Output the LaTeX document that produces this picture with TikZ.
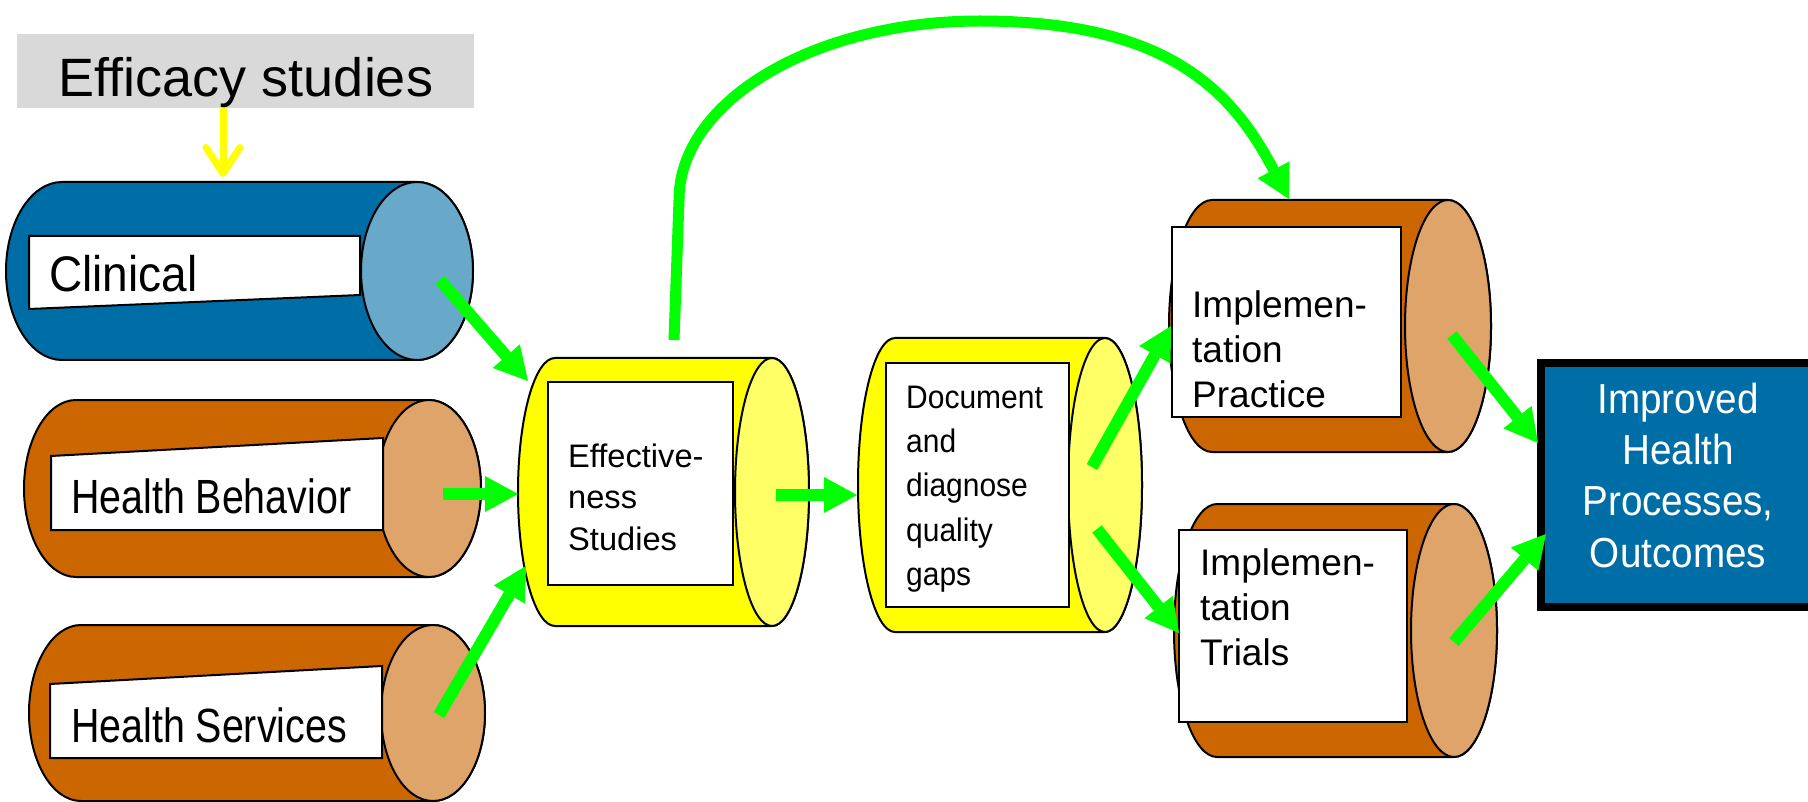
\documentclass[tikz,border=0pt]{standalone}
\usepackage{fontspec}
\setmainfont{Liberation Sans}
\newfontfamily\narrowA[FakeStretch=0.82]{Liberation Sans}
\newfontfamily\narrowB[FakeStretch=0.92]{Liberation Sans}
\usetikzlibrary{arrows.meta}

\definecolor{blueBody}{RGB}{0,110,166}
\definecolor{blueFace}{RGB}{104,169,202}
\definecolor{brownBody}{RGB}{204,102,0}
\definecolor{brownFace}{RGB}{222,164,106}
\definecolor{yelBody}{RGB}{255,255,0}
\definecolor{yelFace}{RGB}{255,255,102}
\definecolor{flowGreen}{RGB}{0,255,0}
\definecolor{titleGray}{RGB}{217,217,217}

% horizontal drum: #1 left-end centre x, #2 face centre x, #3 centre y,
% #4 x radius, #5 y radius, #6 body colour, #7 face colour
\newcommand{\drum}[7]{%
  \filldraw[drumline, fill=#6]
    ({#2},{#3-#5}) -- ({#1},{#3-#5})
    arc[start angle=90, end angle=270, x radius=#4pt, y radius=#5pt]
    -- ({#2},{#3+#5})
    arc[start angle=270, end angle=450, x radius=#4pt, y radius=#5pt] -- cycle;
  \filldraw[drumline, fill=#7] (#2,#3) ellipse[x radius=#4pt, y radius=#5pt];
}

\begin{document}
\begin{tikzpicture}[x=1pt, y=-1pt,
  drumline/.style={draw=black, line width=2pt},
  labelbox/.style={draw=black, line width=2pt, fill=white},
  oneline/.style={inner sep=0pt, anchor=base west},
  multiline/.style={inner sep=0pt, anchor=north west, align=left},
  flow/.style={draw=flowGreen, line width=12pt,
    -{Triangle[length=33pt, width=36pt, line width=0pt]}},
  feed/.style={draw=yelBody, line width=7pt,
    -{Straight Barb[length=26pt, width=34pt, round]}}
]
\useasboundingbox (0,0) rectangle (1808,802);

% title box
\fill[titleGray] (17,34) rectangle (474,108);
\node[inner sep=0pt, anchor=base, font=\fontsize{54}{64}\selectfont]
  (efficacy) at (246,97) {Efficacy studies};

% research streams
\drum{62}{417}{271}{56}{89}{blueBody}{blueFace}
\filldraw[labelbox] (29,236) -- (360,236) -- (360,295) -- (29,309) -- cycle;
\node[oneline, font=\narrowB\fontsize{50}{60}\selectfont] (clinical) at (49,292) {Clinical};

\drum{76}{429}{488.5}{52}{88.5}{brownBody}{brownFace}
\filldraw[labelbox] (51,456) -- (383,438) -- (383,530) -- (51,530) -- cycle;
\node[oneline, font=\narrowA\fontsize{48}{58}\selectfont] (behavior) at (71,513) {Health Behavior};

\drum{81}{433}{713}{52}{88}{brownBody}{brownFace}
\filldraw[labelbox] (50,684) -- (382,666) -- (382,758) -- (50,758) -- cycle;
\node[oneline, font=\narrowA\fontsize{48}{58}\selectfont] (services) at (71,742) {Health Services};

% effectiveness
\drum{555}{772}{492}{37}{134}{yelBody}{yelFace}
\filldraw[labelbox] (548,382) rectangle (733,585);
\node[multiline, font=\fontsize{32.6}{41.5}\selectfont] (effect) at (568,438)
  {\strut Effective-\\ness\\Studies};

% quality gaps
\drum{895}{1105}{485}{37}{147}{yelBody}{yelFace}
\filldraw[labelbox] (886,363) rectangle (1069,607);
\node[multiline, font=\narrowB\fontsize{32.6}{44.3}\selectfont] (gaps) at (906,377)
  {\strut Document\\and\\diagnose\\quality\\gaps};

% implementation
\drum{1212}{1448}{326}{43}{126}{brownBody}{brownFace}
\filldraw[labelbox] (1172,227) rectangle (1401,417);
\node[multiline, font=\fontsize{37}{45}\selectfont] (practice) at (1192,285.5)
  {\strut Implemen-\\tation\\Practice};

\drum{1217}{1454}{630.5}{43}{126.5}{brownBody}{brownFace}
\filldraw[labelbox] (1179,530) rectangle (1407,722);
\node[multiline, font=\fontsize{37}{45}\selectfont] (trials) at (1200,543.5)
  {\strut Implemen-\\tation\\Trials};

% outcome
\filldraw[draw=black, line width=8pt, fill=blueBody] (1541,363) rectangle (1840,607);
\node[inner sep=0pt, anchor=north, align=center, text=white,
  font=\narrowB\fontsize{42}{51.3}\selectfont] (outcome) at (1678,377)
  {\strut Improved\\Health\\Processes,\\Outcomes};

% connector end points
\coordinate (feedTop) at (223,108);
\coordinate (feedEnd) at (223,177);
\coordinate (clinOut) at (440,280);
\coordinate (behOut) at (443,494);
\coordinate (servOut) at (439,715);
\coordinate (effInA) at (528,381);
\coordinate (effInB) at (518,494);
\coordinate (effInC) at (526,566);
\coordinate (effOut) at (776,495);
\coordinate (gapsIn) at (857,495);
\coordinate (gapsOutA) at (1092,467);
\coordinate (gapsOutB) at (1097,529);
\coordinate (pracIn) at (1171,326);
\coordinate (trialIn) at (1179,633);
\coordinate (pracOut) at (1452,335);
\coordinate (trialOut) at (1454,642);
\coordinate (outInA) at (1538,443);
\coordinate (outInB) at (1546,534);
\coordinate (leapStart) at (674,340);
\coordinate (leapRise) at (679,200);
\coordinate (leapTop) at (980,21);
\coordinate (leapEnd) at (1289,199);

% connectors
\draw[feed] (feedTop) -- (feedEnd);
\draw[flow] (clinOut) -- (effInA);
\draw[flow] (behOut) -- (effInB);
\draw[flow] (servOut) -- (effInC);
\draw[flow] (effOut) -- (gapsIn);
\draw[flow] (gapsOutA) -- (pracIn);
\draw[flow] (gapsOutB) -- (trialIn);
\draw[flow] (pracOut) -- (outInA);
\draw[flow] (trialOut) -- (outInB);
\draw[flow, line width=11pt] (leapStart) -- (leapRise)
  .. controls (679,101) and (814,21) .. (leapTop)
  .. controls (1170,21) and (1233,93) .. (leapEnd);
\end{tikzpicture}
\end{document}
